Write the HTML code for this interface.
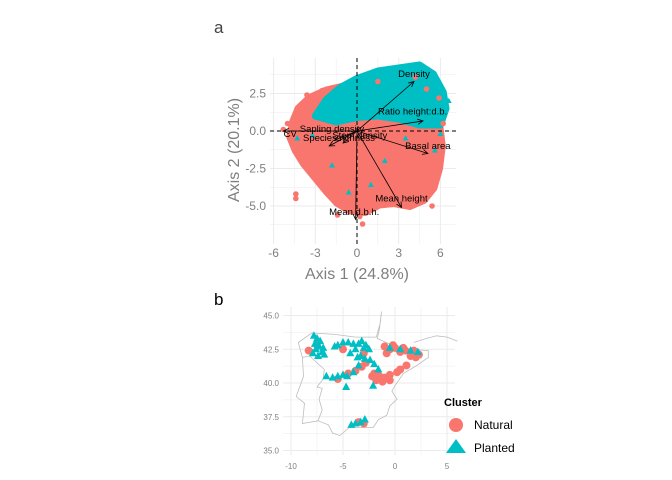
<!DOCTYPE html>
<html><head><meta charset="utf-8">
<style>
body{margin:0;background:#fff;}
svg{display:block;font-family:"Liberation Sans",sans-serif;}
</style></head>
<body>
<svg id="chart" width="672" height="480" viewBox="0 0 672 480">
<text x="214" y="33" font-size="17" fill="#444">a</text>
<text x="214" y="305" font-size="17" fill="#000">b</text>
<g id="pa"></g>
<g id="pb"></g>
</svg>
<script>
// ---- Panel a data ----
const xTicksA = [-6, -3, 0, 3, 6];
const yTicksA = [2.5, 0, -2.5, -5];
const redHull = [[-4.6,0.6],[-4.2,1.5],[-3.4,2.2],[-2.2,2.7],[-0.8,3.0],[1,3.0],[2.5,2.8],[4,2.4],[5.2,1.6],[5.9,0.5],[6.1,-1],[5.9,-2.5],[5.5,-3.8],[4.8,-4.6],[3.8,-5.0],[2.6,-4.8],[1.6,-4.9],[0.6,-5.4],[-0.5,-5.3],[-1.4,-4.8],[-2.2,-4.0],[-3.0,-3.1],[-3.8,-2.2],[-4.4,-1.3],[-4.8,-0.4]];
const tealHull = [[-3,1.0],[-2.2,2.1],[-1.2,2.9],[0,3.5],[1.5,4.0],[3,4.2],[4.5,4.4],[5.5,3.8],[6.2,2.6],[6.4,1.5],[6.0,0.4],[4.5,0.4],[3,0.8],[1.5,1.0],[0,0.9],[-1.5,0.6]];
const redOut = [[-5.3,0.1],[-5.0,0.5],[-4.4,-4.2],[-4.4,-4.5],[-1.4,-5.6],[0.4,-6.2],[0.2,-5.7],[5.4,-5.0],[6.2,0.5],[5.9,2.2],[-3.6,2.4],[4.8,-4.6],[-4.8,-0.6],[2.5,-4.9],[-0.3,-5.3],[4.2,3.6],[1.5,3.3],[5.0,2.8],[-2.5,2.7]];
const tealOut = [[6.6,2.0],[6.1,1.4],[4.6,4.3],[-0.6,-4.1],[1.0,-3.6],[-4.3,-0.5],[5.6,-1.3],[-1.8,-2.3],[-2.3,1.8],[6.0,-0.2],[2.0,-2.0],[3.5,-0.5],[-3.2,-0.3]];
const arrowNames = ["Density","Ratio height:d.b.","Basal area","Mean height","Mean d.b.h.","CV","Sapling density","Species richness","Shannon"];
const arrowX = [4.1, 4.75, 5.1, 3.2, -0.1, -5.3, -2.0, -1.6, -1.0];
const arrowY = [3.3, 0.67, -1.5, -5.1, -5.9, 0.0, -1.0, -0.6, -0.8];
const labelX = [4.1, 4.0, 5.1, 3.2, -0.2, -4.8, -1.8, -1.3, 0.2];
const labelY = [3.8, 1.3, -1.0, -4.5, -5.4, -0.2, 0.15, -0.45, -0.3];
const labelShow = ["Density","Ratio height:d.b.","Basal area","Mean height","Mean d.b.h.","CV","Sapling density","Species richness","Stem density"];

const NS="http://www.w3.org/2000/svg";
function mk(tag, attrs, parent){const e=document.createElementNS(NS,tag);for(const k in attrs)e.setAttribute(k,attrs[k]);parent.appendChild(e);return e;}
const ax=v=>357+v*13.9, ay=v=>131-v*15;
const pa=document.getElementById('pa');
[-6,-4.5,-3,-1.5,0,1.5,3,4.5,6].forEach(v=>{const l=mk('line',{x1:ax(v),x2:ax(v),y1:58,y2:244,stroke:'#ebebeb','stroke-width':Number.isInteger(v/3)?1:0.5},pa);

});
[3.75,2.5,1.25,0,-1.25,-2.5,-3.75,-5,-6.25].forEach(v=>{const l=mk('line',{x1:270,x2:456,y1:ay(v),y2:ay(v),stroke:'#ebebeb','stroke-width':Number.isInteger(v/2.5)?1:0.5},pa);

});
xTicksA.forEach(v=>{const t=mk('text',{x:ax(v),y:257,'font-size':12,fill:'#7f7f7f','text-anchor':'middle'},pa);t.textContent=v;

});
yTicksA.forEach(v=>{const t=mk('text',{x:266,y:ay(v)+4,'font-size':12,fill:'#7f7f7f','text-anchor':'end'},pa);t.textContent=v.toFixed(1);

});
let t=mk('text',{x:357,y:279,'font-size':16,fill:'#7f7f7f','text-anchor':'middle'},pa);t.textContent='Axis 1 (24.8%)';


t=mk('text',{x:0,y:0,'font-size':16,fill:'#7f7f7f','text-anchor':'middle',transform:'translate(239,150) rotate(-90)'},pa);t.textContent='Axis 2 (20.1%)';


const hp=h=>h.map((p,i)=>(i?'L':'M')+ax(p[0]).toFixed(1)+','+ay(p[1]).toFixed(1)).join('')+'Z';
let p=mk('path',{d:hp(redHull),fill:'#f8766d',stroke:'#f8766d','stroke-width':8,'stroke-linejoin':'round'},pa);


p=mk('path',{d:hp(tealHull),fill:'#00bfc4',stroke:'#00bfc4','stroke-width':7,'stroke-linejoin':'round'},pa);


redOut.forEach(q=>{const c=mk('circle',{cx:ax(q[0]),cy:ay(q[1]),r:2.8,fill:'#f8766d'},pa);

});
tealOut.forEach(q=>{const x=ax(q[0]),y=ay(q[1]);const c=mk('polygon',{points:`${x},${y-3.2} ${x-3},${y+2} ${x+3},${y+2}`,fill:'#00bfc4'},pa);

});
let l=mk('line',{x1:357,x2:357,y1:58,y2:244,stroke:'#000','stroke-dasharray':'4,3'},pa);


l=mk('line',{x1:270,x2:456,y1:131,y2:131,stroke:'#000','stroke-dasharray':'4,3'},pa);


arrowNames.forEach((n,i)=>{const x2=ax(arrowX[i]),y2=ay(arrowY[i]);
const g=mk('g',{},pa);


mk('line',{x1:357,y1:131,x2:x2,y2:y2,stroke:'#000','stroke-width':0.8},g);
const a=Math.atan2(y2-131,x2-357),s=6;
mk('path',{d:`M${x2-s*Math.cos(a-0.45)},${y2-s*Math.sin(a-0.45)}L${x2},${y2}L${x2-s*Math.cos(a+0.45)},${y2-s*Math.sin(a+0.45)}`,fill:'none',stroke:'#000','stroke-width':0.8},g);
const tx=mk('text',{x:ax(labelX[i]),y:ay(labelY[i])+3,'font-size':9.5,fill:'#000','text-anchor':'middle'},g);tx.textContent=labelShow[i];
});

// ---- Panel b data ----
const xTicksB=[-10,-5,0,5];
const yTicksB=[45,42.5,40,37.5,35];
const coastLon=[-9.3,-8.0,-5.8,-3.8,-1.8,-1.4,-1.3,-1.5,-1.7,0,1.5,3.2,3.2,2.1,0.8,0,-0.3,0.2,-0.5,-0.8,-1.6,-2.1,-3.5,-4.4,-5.3,-6.0,-6.4,-7.4,-8.9,-8.7,-9.5,-8.8,-8.9,-9.3];
const coastLat=[43.0,43.7,43.6,43.4,43.4,44.5,45.3,44.0,43.3,42.7,42.5,42.4,41.9,41.3,40.7,39.8,39.4,38.8,38.3,37.6,37.3,36.7,36.7,36.7,36.1,36.3,36.9,37.2,37.0,38.5,39.0,40.5,41.9,43.0];
const portLon=[-8.9,-8.2,-6.8,-6.9,-7.5,-7.0,-7.3,-7.0,-7.4];
const portLat=[41.9,42.0,41.0,40.3,39.7,39.6,38.8,38.0,37.2];
const frLon=[1.8,3.0,4.0,5.0,6.0];
const frLat=[43.0,43.3,43.5,43.4,43.1];
const natLon=[-8.3,-7.5,-5.0,-3.0,-2.8,-3.8,-4.5,-5.5,-3.2,-1.0,-0.5,0.0,0.5,1.0,1.5,2.0,2.3,-0.8,1.1,-2.0,-1.5,-1.0,-0.5,0.2,-1.8,-1.2,-0.5,0.5,-3.5,-3.0,-0.2,0.8,1.8,-2.2];
const natLat=[42.4,42.8,42.5,42.2,41.5,40.9,40.7,40.3,41.2,42.7,42.5,42.6,42.3,42.4,42.0,41.9,42.1,42.2,41.3,40.7,40.5,40.4,40.6,40.8,40.2,40.1,40.2,41.0,37.1,37.0,42.8,42.6,42.4,40.5];
const plaLon=[-7.8,-7.5,-7.7,-7.3,-7.9,-7.4,-7.0,-6.8,-7.6,-7.2,-6.9,-5.5,-5.0,-4.5,-4.0,-3.5,-3.2,-2.8,-2.5,-3.8,-3.3,-2.9,-2.4,-3.6,-5.8,-6.6,-6.0,-5.5,-5.0,-4.6,-4.0,-3.5,-2.0,-1.6,-2.1,-4.7,-3.8,-3.3,-2.9,-4.2,-0.5,0.5,1.5,2.2,-4.3,-3.0];
const plaLat=[43.5,43.3,42.9,42.7,42.2,42.0,42.3,42.1,42.5,43.1,42.6,42.8,43.0,43.0,42.9,42.9,43.1,42.8,42.5,42.5,42.0,41.8,41.7,41.9,42.7,40.5,40.4,40.5,40.6,40.5,40.8,41.3,41.4,41.0,39.8,39.7,37.0,37.1,37.3,36.9,42.6,42.5,42.4,42.3,42.2,42.6];

const bx=v=>395+v*10.4, by=v=>383-(v-40)*13.5;
const pb=document.getElementById('pb');
[-10,-7.5,-5,-2.5,0,2.5,5].forEach(v=>{const l=mk('line',{x1:bx(v),x2:bx(v),y1:307,y2:455,stroke:'#ebebeb','stroke-width':Number.isInteger(v/5)?1:0.5},pb);

});
[45,43.75,42.5,41.25,40,38.75,37.5,36.25,35].forEach(v=>{const l=mk('line',{x1:283,x2:455,y1:by(v),y2:by(v),stroke:'#ebebeb','stroke-width':Number.isInteger(v/2.5)?1:0.5},pb);

});
xTicksB.forEach(v=>{const t=mk('text',{x:bx(v),y:469,'font-size':8,fill:'#7f7f7f','text-anchor':'middle'},pb);t.textContent=v;

});
yTicksB.forEach(v=>{const t=mk('text',{x:279,y:by(v)+3,'font-size':8,fill:'#7f7f7f','text-anchor':'end'},pb);t.textContent=v.toFixed(1);

});
const pl=(lo,la)=>lo.map((v,i)=>(i?'L':'M')+bx(v).toFixed(1)+','+by(la[i]).toFixed(1)).join('');
p=mk('path',{d:pl(coastLon,coastLat),fill:'none',stroke:'#bdbdbd','stroke-width':0.8},pb);


p=mk('path',{d:pl(portLon,portLat),fill:'none',stroke:'#bdbdbd','stroke-width':0.8},pb);


p=mk('path',{d:pl(frLon,frLat),fill:'none',stroke:'#bdbdbd','stroke-width':0.8},pb);


natLon.forEach((v,i)=>{const c=mk('circle',{cx:bx(v),cy:by(natLat[i]),r:4,fill:'#f8766d'},pb);

});
plaLon.forEach((v,i)=>{const x=bx(v),y=by(plaLat[i]);const c=mk('polygon',{points:`${x},${y-4.5} ${x-4},${y+3} ${x+4},${y+3}`,fill:'#00bfc4'},pb);

});
const lg=mk('g',{},pb);


t=mk('text',{x:444,y:406,'font-size':11,'font-weight':'bold',fill:'#000'},lg);t.textContent='Cluster';


let c=mk('circle',{cx:456,cy:425,r:7,fill:'#f8766d'},lg);


t=mk('text',{x:474,y:429,'font-size':12,fill:'#000'},lg);t.textContent='Natural';


c=mk('polygon',{points:'456,439 446,453 466,453',fill:'#00bfc4'},lg);


t=mk('text',{x:474,y:452,'font-size':12,fill:'#000'},lg);t.textContent='Planted';


</script>
</body></html>
